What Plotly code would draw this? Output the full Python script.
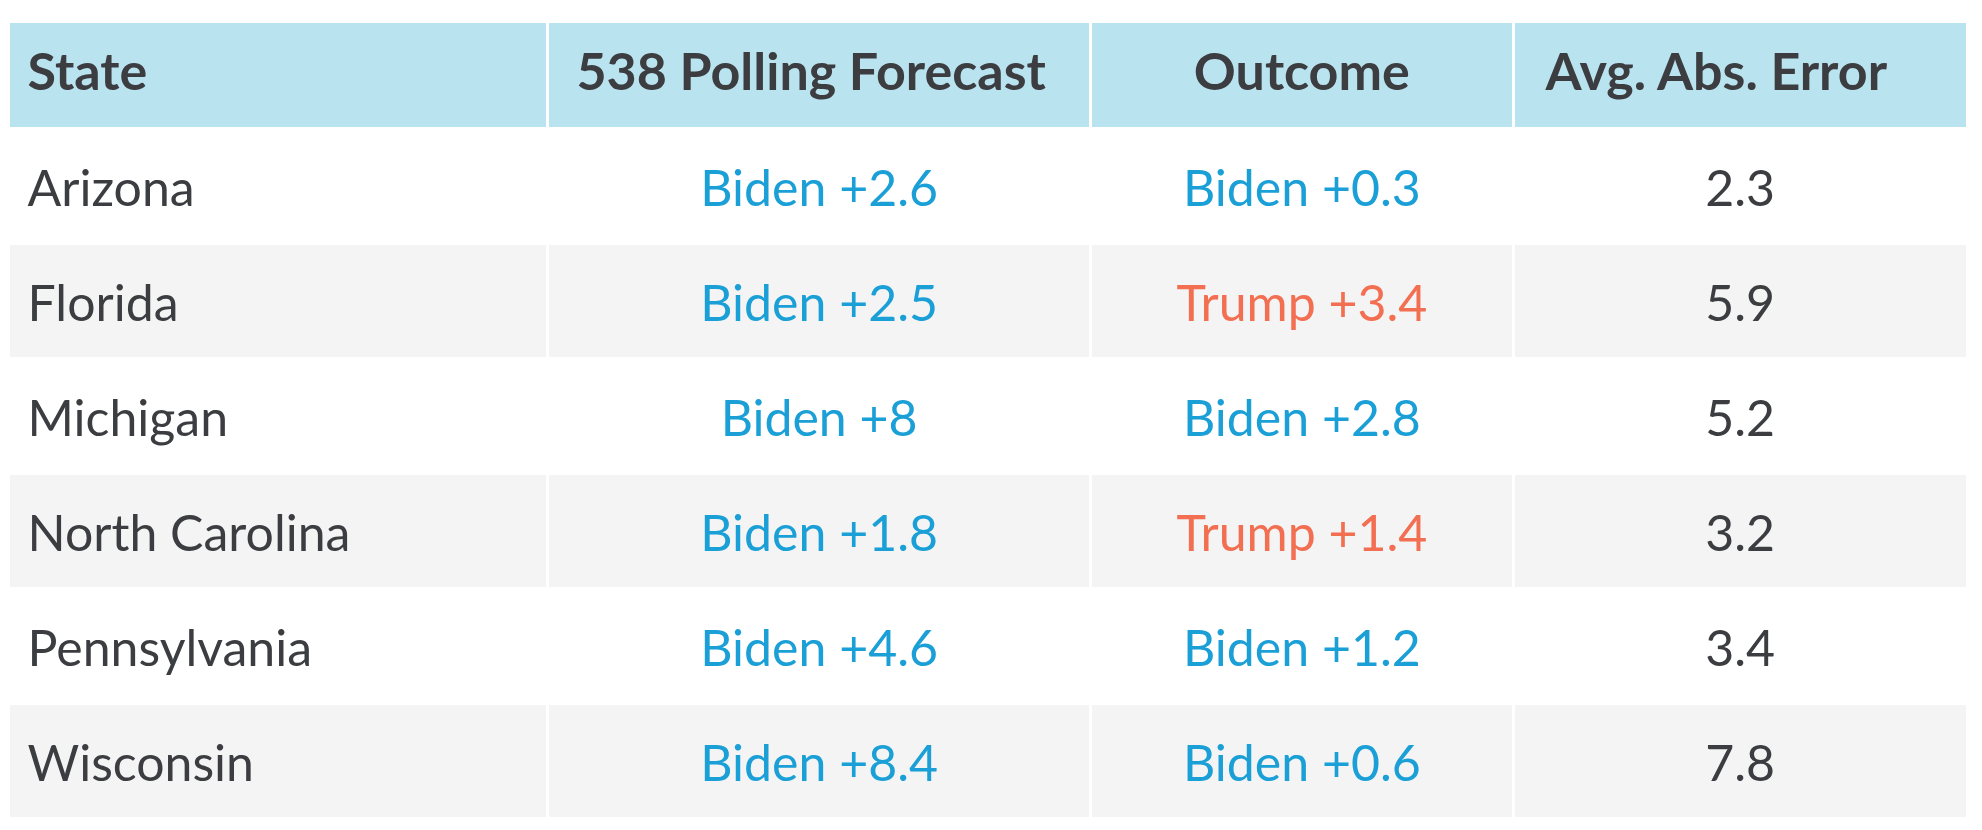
import plotly.graph_objects as go

states = ["Arizona", "Florida", "Michigan", "North Carolina", "Pennsylvania", "Wisconsin"]
forecast = ["Biden +2.6", "Biden +2.5", "Biden +8", "Biden +1.8", "Biden +4.6", "Biden +8.4"]
outcome = ["Biden +0.3", "Trump +3.4", "Biden +2.8", "Trump +1.4", "Biden +1.2", "Biden +0.6"]
abs_error = [2.3, 5.9, 5.2, 3.2, 3.4, 7.8]
headers = ["State", "538 Polling Forecast", "Outcome", "Avg. Abs. Error"]

BLUE = "#1a9fd6"
RED = "#f26f52"
DARK = "#3b3d40"

# page body has an 8px margin, so the figure is a bit smaller than the window
W, H = 1966, 814


def party_color(s):
    return RED if s.startswith("Trump") else BLUE


def sp(size, n=1):
    return "<span style='font-size:%dpx'>%s</span>" % (size, "&nbsp;" * n)


def spaced(s, strut, lead=None, extra=0):
    # a big invisible space makes the text box taller, which pushes the
    # text down to the middle of the row (tables have no valign).
    # the trailing <br> stops plotly from wrapping the text on spaces
    lead = strut if lead is None else lead
    return sp(lead) + s + sp(strut, 1 + extra) + "<br>"


row_fill = ["#ffffff" if i % 2 == 0 else "#f4f4f4" for i in range(len(states))]
font_colors = [
    [DARK] * len(states),
    [party_color(s) for s in forecast],
    [party_color(s) for s in outcome],
    [DARK] * len(states),
]

head_extra = [0, 1, 0, 3]

fig = go.Figure(go.Table(
    domain=dict(x=[0, 1959 / W], y=[0, 1 - 13 / H]),
    columnwidth=[540, 543, 423, 454],
    header=dict(
        values=[spaced("<b>%s</b>" % h, 62, 45 if i == 0 else None, head_extra[i])
                for i, h in enumerate(headers)],
        fill_color="#bae3f0",
        line=dict(color="white", width=3),
        align=["left", "center", "center", "center"],
        font=dict(family="Lato", size=52, color=DARK),
        height=107,
    ),
    cells=dict(
        values=[
            [spaced(s, 71, 45) for s in states],
            [spaced(s, 71) for s in forecast],
            [spaced(s, 71) for s in outcome],
            [spaced("%.1f" % v, 71) for v in abs_error],
        ],
        fill_color=[row_fill] * 4,
        line=dict(color="white", width=3),
        align=["left", "center", "center", "center"],
        font=dict(family="Lato", size=50, color=font_colors),
        height=115,
    ),
))

fig.update_layout(
    width=W,
    height=H,
    margin=dict(l=0, r=0, t=0, b=0),
    paper_bgcolor="white",
)

fig.write_html("out.html")
